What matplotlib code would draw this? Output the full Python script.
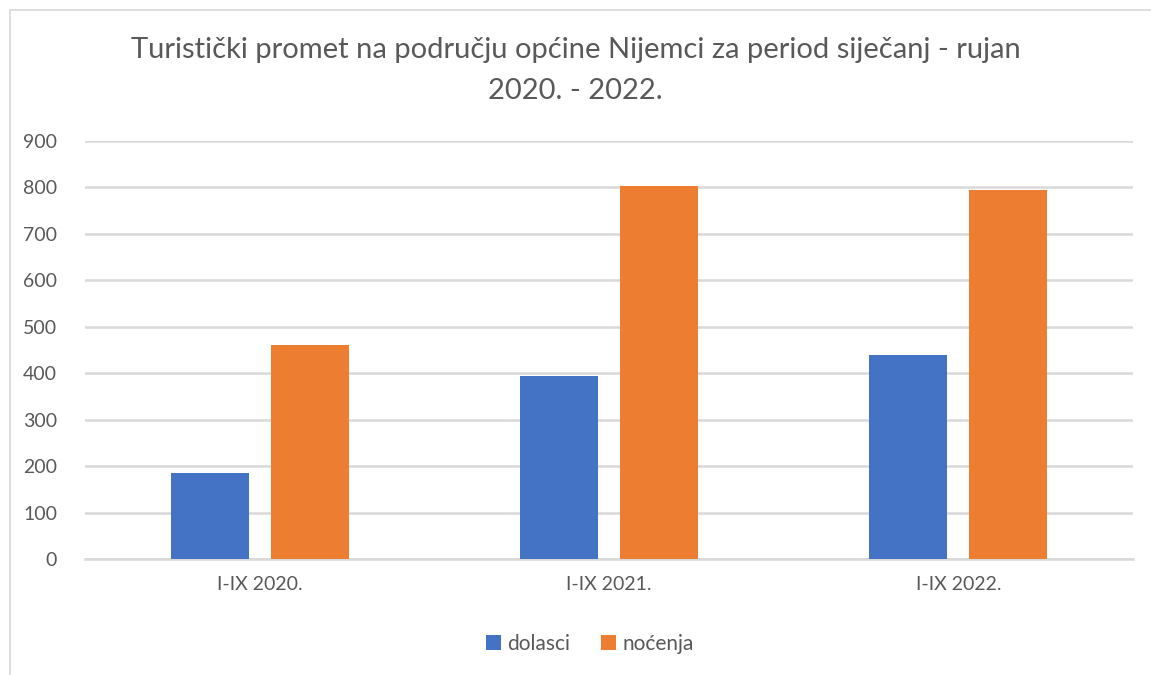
import matplotlib.pyplot as plt
import numpy as np
from matplotlib.patches import Rectangle

categories = ['I-IX 2020.', 'I-IX 2021.', 'I-IX 2022.']
dolasci = [185, 393, 440]
nocenja = [461, 804, 795]
yticks = [0, 100, 200, 300, 400, 500, 600, 700, 800, 900]

plt.rcParams['font.family'] = ['Lato', 'DejaVu Sans']
text_col = '#595959'
grid_col = '#d9d9d9'

W, H = 1151, 675
fig = plt.figure(figsize=(W / 100, H / 100), dpi=100, facecolor='white')
ax = fig.add_axes([85 / W, 1 - 559 / H, (1133 - 85) / W, (559 - 141) / H])

# chart border
fig.patches.append(Rectangle((10 / W, -0.1), 1.2, (665 / H) + 0.1, transform=fig.transFigure,
                             fill=False, edgecolor=grid_col, linewidth=1.2))

x = np.arange(len(categories))
bw = 0.223
off = 0.143
ax.bar(x - off, dolasci, bw, color='#4472c4', label='dolasci', zorder=3)
ax.bar(x + off, nocenja, bw, color='#ed7d31', label='noćenja', zorder=3)

ax.set_xlim(-0.5, 2.5)
ax.set_ylim(0, 900)
ax.set_yticks(yticks)
ax.set_xticks(x)
ax.set_xticklabels(categories)
ax.grid(axis='y', color=grid_col, linewidth=1.8, zorder=0)
for s in ['top', 'right', 'left']:
    ax.spines[s].set_visible(False)
ax.spines['bottom'].set_color(grid_col)
ax.spines['bottom'].set_linewidth(1.8)
ax.tick_params(axis='both', length=0, colors=text_col, labelsize=14)
ax.tick_params(axis='y', pad=20)
ax.tick_params(axis='x', pad=12)

fig.text(0.5, 1 - 50 / H, 'Turistički promet na području općine Nijemci za period siječanj - rujan',
         ha='center', va='center', fontsize=21, color=text_col)
fig.text(0.5, 1 - 91 / H, '2020. - 2022.', ha='center', va='center', fontsize=21, color=text_col)

leg = fig.legend(loc='center', bbox_to_anchor=(590 / W, 1 - 644 / H), ncol=2, frameon=False,
                 fontsize=15, handlelength=0.7, handleheight=0.7, handletextpad=0.3,
                 columnspacing=1.5)
for t in leg.get_texts():
    t.set_color(text_col)

fig.savefig('out.png', dpi=100)
